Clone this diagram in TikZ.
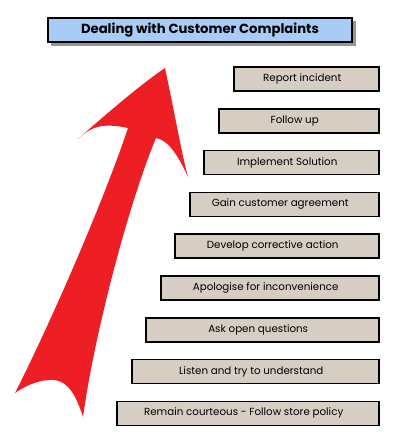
\documentclass[tikz,border=0pt]{standalone}
\usepackage{fontspec}
\setmainfont{Poppins}
\definecolor{arrowred}{RGB}{237,30,36}
\definecolor{boxfill}{RGB}{214,206,195}
\definecolor{titlefill}{RGB}{168,204,246}
\definecolor{shadowgray}{RGB}{150,150,150}
\newcommand{\padr}{\hspace*{8pt}}
\tikzset{
  stepbox/.style={draw=black, line width=1.6pt, fill=boxfill, minimum height=24pt,
    inner sep=0pt, anchor=east, font=\fontsize{10.3}{12}\selectfont},
  titlebox/.style={draw=black, line width=1.8pt, fill=titlefill, minimum width=304pt,
    minimum height=24pt, inner sep=0pt, font=\fontsize{13.2}{15}\selectfont\bfseries}
}
\begin{document}
\begin{tikzpicture}[x=1pt,y=-1pt]
\useasboundingbox (0,0) rectangle (400,445);
% title with shadow
\fill[shadowgray] (51,21) rectangle (356,46);
\node[titlebox] (title) at (200,30) {Dealing with Customer Complaints};
% arrow
\fill[arrowred] (165,68) .. controls (175,115) and (182,155) .. (188,177)
  .. controls (178,155) and (168,140) .. (156,138)
  .. controls (130,200) and (95,330) .. (83,417)
  .. controls (76,395) and (68,382) .. (55,380)
  .. controls (42,379) and (28,384) .. (15,393)
  .. controls (52,320) and (104,200) .. (128,128)
  .. controls (100,122) and (90,128) .. (78,139)
  .. controls (105,115) and (140,85) .. cycle;
% steps
\node[stepbox, minimum width=145pt] (s1) at (379.5,79) {Report incident\padr};
\node[stepbox, minimum width=160pt] (s2) at (379.5,120.8) {Follow up\padr};
\node[stepbox, minimum width=175pt] (s3) at (379.5,162.6) {Implement Solution\padr};
\node[stepbox, minimum width=189pt] (s4) at (379.5,204.4) {Gain customer agreement\padr};
\node[stepbox, minimum width=204pt] (s5) at (379.5,246.2) {Develop corrective action\padr};
\node[stepbox, minimum width=218pt] (s6) at (379.5,288) {Apologise for inconvenience\padr};
\node[stepbox, minimum width=233pt] (s7) at (379.5,329.8) {Ask open questions\padr};
\node[stepbox, minimum width=247pt] (s8) at (379.5,371.6) {Listen and try to understand\padr};
\node[stepbox, minimum width=262pt] (s9) at (379.5,413.4) {Remain courteous - Follow store policy\padr};
\end{tikzpicture}
\end{document}
